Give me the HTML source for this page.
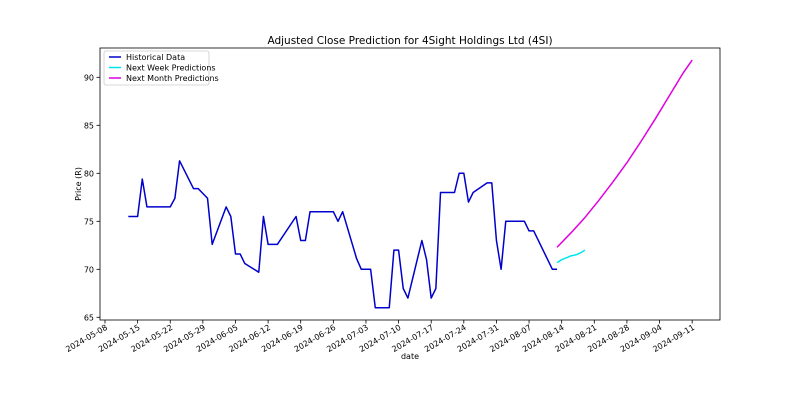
<!DOCTYPE html>
<html><head><meta charset="utf-8"><style>
body{margin:0;background:#fff;}
svg text{font-family:"DejaVu Sans","Liberation Sans",sans-serif;fill:#000;}
</style></head><body>
<svg id="chart" width="800" height="400" xmlns="http://www.w3.org/2000/svg">
<rect width="800" height="400" fill="#fff"/>
<text x="410" y="44" font-size="10.5" text-anchor="middle">Adjusted Close Prediction for 4Sight Holdings Ltd (4SI)</text>
<g id="plot"></g>
<rect x="100" y="48" width="620" height="272" fill="none" stroke="#000" stroke-width="0.8"/>
<text transform="translate(81,184) rotate(-90)" font-size="8" text-anchor="middle">Price (R)</text>
<text x="410" y="359" font-size="8" text-anchor="middle">date</text>
<g>
<rect x="104" y="51" width="105" height="34" fill="#fff" stroke="#ccc" stroke-width="0.8" rx="2"/>
<line x1="109" y1="57" x2="121" y2="57" stroke="#0000cd" stroke-width="1.5"/>
<text x="126" y="60" font-size="8">Historical Data</text>
<line x1="109" y1="67.5" x2="121" y2="67.5" stroke="#00e5ee" stroke-width="1.5"/>
<text x="126" y="70.5" font-size="8">Next Week Predictions</text>
<line x1="109" y1="78" x2="121" y2="78" stroke="#e000e0" stroke-width="1.5"/>
<text x="126" y="81" font-size="8">Next Month Predictions</text>
</g>
</svg>
<script>
// day offsets from 2024-05-08
const histDays=[5,7,8,9,14,15,16,19,20,22,23,26,27,28,29,30,33,34,35,37,41,42,43,44,49,50,51,54,55,57,58,61,62,63,64,65,68,69,70,71,72,75,76,77,78,79,82,83,84,85,86,90,91,92,96,97];
const histVals=[75.5,75.5,79.4,76.5,76.5,77.4,81.3,78.4,78.4,77.4,72.6,76.5,75.5,71.6,71.6,70.6,69.7,75.5,72.6,72.6,75.5,73,73,76,76,75,76,71.1,70,70,66,66,72,72,68,67,73,71,67,68,78,78,80,80,77,78,79,79,73,70,75,75,74,74,70,70];
const weekDays=[97,98,99,100,101,102,103];
const weekVals=[70.7,71.0,71.2,71.4,71.5,71.7,72.0];
const monthDays=[97,100,103,106,109,112,115,118,121,124,126];
const monthVals=[72.3,73.8,75.4,77.2,79.1,81.1,83.3,85.6,88.0,90.4,91.8];
const xTickLabels=["2024-05-08","2024-05-15","2024-05-22","2024-05-29","2024-06-05","2024-06-12","2024-06-19","2024-06-26","2024-07-03","2024-07-10","2024-07-17","2024-07-24","2024-07-31","2024-08-07","2024-08-14","2024-08-21","2024-08-28","2024-09-04","2024-09-11"];
const yTicks=[65,70,75,80,85,90];

const NS="http://www.w3.org/2000/svg";
const X=d=>105+d*4.66;
const Y=v=>269.3-(v-70)*9.6;
const svg=document.getElementById('chart');
const plot=document.getElementById('plot');
function mk(t,a){const e=document.createElementNS(NS,t);for(const k in a)e.setAttribute(k,a[k]);return e;}
yTicks.forEach(v=>{
  const l=mk('line',{x1:96.5,x2:100,y1:Y(v),y2:Y(v),stroke:'#000','stroke-width':0.8});
  
  
  svg.appendChild(l);
  const t=mk('text',{x:94,y:Y(v)+3,'font-size':8,'text-anchor':'end'});
  
  
  t.textContent=v;svg.appendChild(t);
});
xTickLabels.forEach((s,i)=>{
  const x=X(i*7);
  const l=mk('line',{x1:x,x2:x,y1:320,y2:323.5,stroke:'#000','stroke-width':0.8});
  
  
  svg.appendChild(l);
  const t=mk('text',{transform:`translate(${x+3},${329}) rotate(-30)`,'font-size':8,'text-anchor':'end'});
  
  
  t.textContent=s;svg.appendChild(t);
});
function line(ds,vs,c,name){
  const p=mk('polyline',{points:ds.map((d,i)=>X(d)+','+Y(vs[i])).join(' '),fill:'none',stroke:c,'stroke-width':1.5,'stroke-linejoin':'round'});
  
  
  plot.appendChild(p);
}
line(histDays,histVals,'#0000cd','historical-data-line');
line(weekDays,weekVals,'#00e5ee','next-week-line');
line(monthDays,monthVals,'#e000e0','next-month-line');
</script>
</body></html>
